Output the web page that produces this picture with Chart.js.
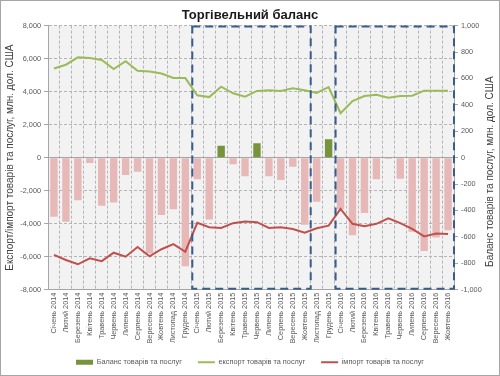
<!DOCTYPE html>
<html lang="uk">
<head>
  <meta charset="utf-8">
  <title>Торгівельний баланс</title>
  <script src="https://cdn.jsdelivr.net/npm/chart.js@4.4.0/dist/chart.umd.min.js"></script>
  <style>
    html, body { margin: 0; padding: 0; background: #fff; }
  </style>
</head>
<body>
  <canvas id="chart-0" width="500" height="376"></canvas>

  <script>

    // categories: Jan 2014 .. Oct 2016
    let months = [
      'Січень 2014', 'Лютий 2014', 'Березень 2014', 'Квітень 2014', 'Травень 2014', 'Червень 2014',
      'Липень 2014', 'Серпень 2014', 'Вересень 2014', 'Жовтень 2014', 'Листопад 2014', 'Грудень 2014',
      'Січень 2015', 'Лютий 2015', 'Березень 2015', 'Квітень 2015', 'Травень 2015', 'Червень 2015',
      'Липень 2015', 'Серпень 2015', 'Вересень 2015', 'Жовтень 2015', 'Листопад 2015', 'Грудень 2015',
      'Січень 2016', 'Лютий 2016', 'Березень 2016', 'Квітень 2016', 'Травень 2016', 'Червень 2016',
      'Липень 2016', 'Серпень 2016', 'Вересень 2016', 'Жовтень 2016'
    ];

    // balance, right axis
    let balance = [
      -448, -486, -322, -40, -365, -340, -131, -107, -726, -435, -390, -822,
      -164, -468, 91, -50, -141, 109, -141, -169, -68, -509, -334, 140,
      -390, -587, -420, -164, -10, -160, -562, -706, -604, -549
    ];

    // export, left axis
    let exportValues = [
      5400, 5630, 6080, 6040, 5920, 5370, 5840, 5270, 5220, 5100, 4830, 4820,
      3780, 3670, 4300, 3900, 3690, 4040, 4080, 4040, 4200, 4080, 3920, 4270,
      2690, 3430, 3730, 3810, 3630, 3730, 3750, 4060, 4060, 4060
    ];

    // import (shown negative), left axis
    let importValues = [
      -5890, -6200, -6460, -6100, -6270, -5760, -6000, -5410, -5980, -5550, -5240, -5700,
      -3950, -4220, -4260, -3970, -3870, -3910, -4260, -4220, -4320, -4540, -4280, -4120,
      -3100, -4010, -4160, -4010, -3670, -3970, -4320, -4770, -4590, -4620
    ];

    // dashed frames, first and last category index
    let highlightRanges = [[12, 21], [24, 33]];

    let leftTitle = 'Експорт/імпорт товарів та послуг, млн. дол. США';
    let rightTitle = 'Баланс товарів та послуг, млн. дол. США';

    let colors = {
      positive: '#77933C',
      negative: '#E6B9B8',
      exportLine: '#9BBB59',
      importLine: '#C0504D',
      grid: '#b4b4b4',
      text: '#595959',
      frame: '#385D8A'
    };

    let family = 'Liberation Sans, Arial, sans-serif';
    let tickFont = {family: family, size: 7.3};
    let gridDash = ctx => ctx.type === 'tick' && ctx.tick.value !== 0 ? [3, 2] : [];

    let backgroundPlugin = {
      id: 'background',
      beforeDraw(chart) {
        let {ctx, chartArea: a} = chart;
        ctx.save();
        ctx.fillStyle = '#fff';
        ctx.fillRect(0, 0, chart.width, chart.height);
        ctx.fillStyle = '#f2f2f2';
        ctx.fillRect(a.left, a.top, a.right - a.left, a.bottom - a.top);
        ctx.strokeStyle = '#a6a6a6';
        ctx.lineWidth = 1;
        ctx.strokeRect(0.5, 0.5, chart.width - 1, chart.height - 1);
        ctx.restore();
      },
      afterDraw(chart) {
        // right axis title, reads bottom to top like the left one
        let {ctx, chartArea: a} = chart;
        ctx.save();
        ctx.translate(chart.width - 10, (a.top + a.bottom) / 2 + 14);
        ctx.rotate(-Math.PI / 2);
        ctx.fillStyle = '#404040';
        ctx.font = '10px ' + family;
        ctx.textAlign = 'center';
        ctx.textBaseline = 'middle';
        ctx.fillText(rightTitle, 0, 0);
        ctx.restore();
      }
    };

    let framesPlugin = {
      id: 'frames',
      afterDatasetsDraw(chart) {
        let {ctx, chartArea: a, scales: {x}} = chart;
        let half = (x.getPixelForValue(1) - x.getPixelForValue(0)) / 2;
        ctx.save();
        ctx.strokeStyle = colors.frame;
        ctx.lineWidth = 2;
        ctx.setLineDash([8, 5]);
        highlightRanges.forEach(function(r) {
          let left = x.getPixelForValue(r[0]) - half + 1;
          let right = x.getPixelForValue(r[1]) + half;
          ctx.strokeRect(left, a.top + 1, right - left, a.bottom - a.top - 2);
        });
        ctx.restore();
      }
    };

    let chart = new Chart('chart-0', {
      type: 'bar',
      data: {
        labels: months,
        datasets: [
          {
            label: 'Баланс товарів та послуг',
            data: balance,
            yAxisID: 'y1',
            backgroundColor: ctx => ctx.raw >= 0 ? colors.positive : colors.negative,
            categoryPercentage: 1,
            barPercentage: 0.62,
            order: 2
          },
          {
            type: 'line',
            label: 'експорт товарів та послуг',
            data: exportValues,
            yAxisID: 'y',
            borderColor: colors.exportLine,
            backgroundColor: colors.exportLine,
            borderWidth: 2,
            pointRadius: 0,
            tension: 0,
            order: 1
          },
          {
            type: 'line',
            label: 'імпорт товарів та послуг',
            data: importValues,
            yAxisID: 'y',
            borderColor: colors.importLine,
            backgroundColor: colors.importLine,
            borderWidth: 2,
            pointRadius: 0,
            tension: 0,
            order: 1
          }
        ]
      },
      options: {
        responsive: false,
        animation: false,
        layout: {padding: 0},
        plugins: {
          title: {
            display: true,
            text: 'Торгівельний баланс',
            color: '#1a1a1a',
            font: {family: family, size: 13, weight: 'bold'},
            padding: {top: 8, bottom: 2}
          },
          legend: {
            position: 'bottom',
            labels: {
              color: colors.text,
              font: {family: family, size: 7.3},
              usePointStyle: true,
              pointStyleWidth: 17,
              boxHeight: 5,
              padding: 16,
              generateLabels(chart) {
                let items = Chart.defaults.plugins.legend.labels.generateLabels(chart);
                items.sort((a, b) => a.datasetIndex - b.datasetIndex);
                items.forEach(function(item) {
                  if (item.datasetIndex === 0) {
                    item.fillStyle = colors.positive;
                    item.strokeStyle = colors.positive;
                    item.pointStyle = 'rect';
                  } else {
                    item.pointStyle = 'line';
                  }
                });
                return items;
              }
            }
          },
          tooltip: {enabled: false}
        },
        scales: {
          x: {
            grid: {color: colors.grid, offset: true, drawTicks: false},
            border: {color: '#a6a6a6', dash: gridDash},
            ticks: {
              color: colors.text,
              font: tickFont,
              minRotation: 90,
              maxRotation: 90,
              autoSkip: false,
              padding: 3
            },
            afterFit(scale) { scale.height = 53; }
          },
          y: {
            position: 'left',
            min: -8000,
            max: 8000,
            ticks: {stepSize: 2000, color: colors.text, font: tickFont, padding: 3},
            grid: {
              color: ctx => ctx.tick && ctx.tick.value === 0 ? '#a6a6a6' : colors.grid,
              tickColor: '#a6a6a6',
              tickLength: 4
            },
            border: {color: '#a6a6a6', dash: gridDash},
            title: {
              display: true,
              text: leftTitle,
              color: '#404040',
              font: {family: family, size: 10},
              padding: {top: 4, bottom: 2}
            },
            afterFit(scale) { scale.width = 48; }
          },
          y1: {
            position: 'right',
            min: -1000,
            max: 1000,
            ticks: {stepSize: 200, color: colors.text, font: tickFont, padding: 3},
            grid: {drawOnChartArea: false, tickColor: '#a6a6a6', tickLength: 4},
            border: {color: '#a6a6a6'},
            afterFit(scale) { scale.width = 46; }
          }
        }
      },
      plugins: [backgroundPlugin, framesPlugin]
    });

  </script>
</body>
</html>
